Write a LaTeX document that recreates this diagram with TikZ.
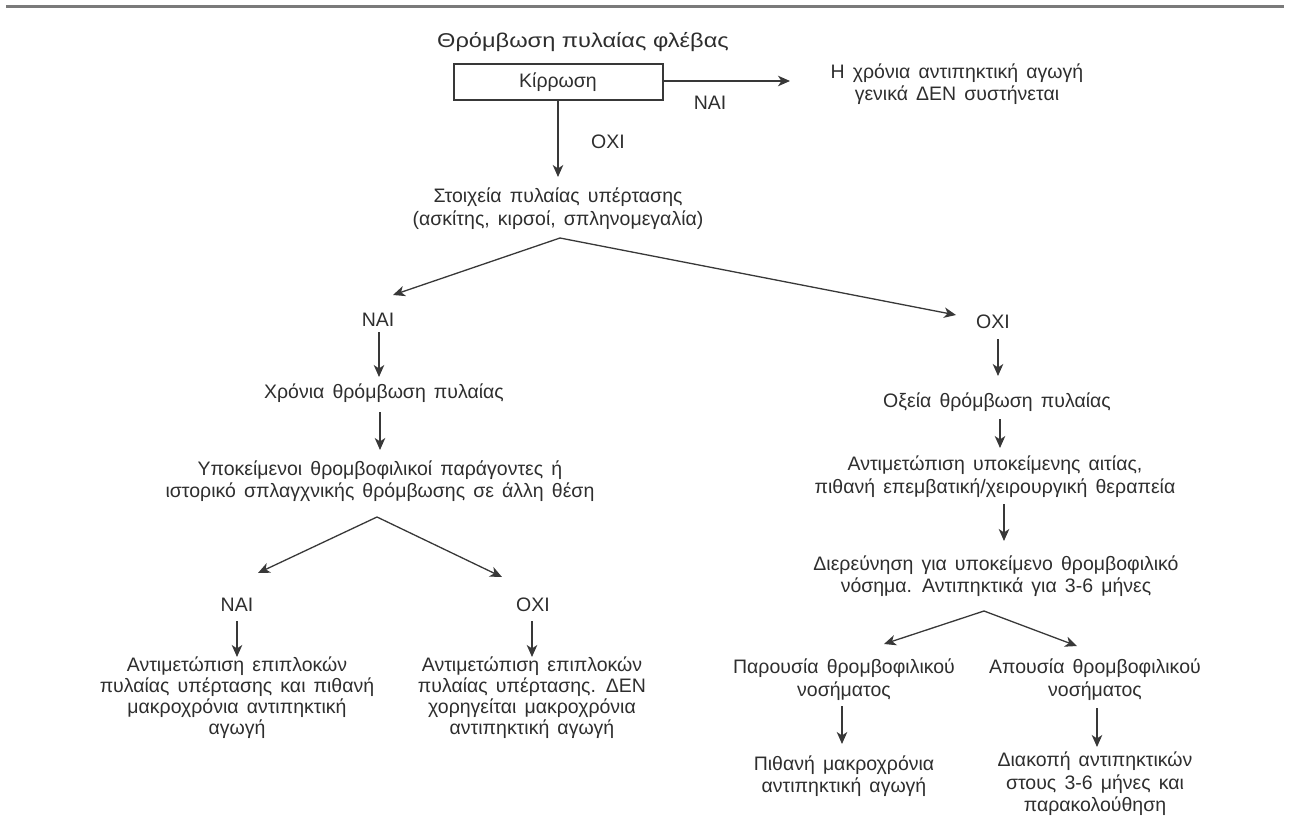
\documentclass[tikz,border=0pt]{standalone}
\usepackage{fontspec}
\setmainfont[WordSpace=1.5]{Liberation Sans}
\newfontfamily\titlefont[FakeStretch=1.18]{Liberation Sans}
\usetikzlibrary{arrows.meta}
\definecolor{textc}{HTML}{2E2E2E}
\definecolor{linec}{HTML}{383838}
\definecolor{rulec}{HTML}{7A7A7A}
\begin{document}
\begin{tikzpicture}[x=1pt,y=-1pt,
  txt/.style={font=\fontsize{19.5}{22.5}\selectfont, text=textc, align=center, inner sep=0pt},
  txtn/.style={txt, font=\fontsize{19.5}{21}\selectfont},
  ttl/.style={font=\titlefont\fontsize{20}{24}\selectfont, text=textc, inner sep=0pt},
  arr/.style={draw=linec, line width=1.3pt, -{Stealth[length=12pt,width=10.5pt,inset=3.5pt]}},
  kbox/.style={txt, draw=linec, line width=2pt, minimum width=209pt, minimum height=36pt}]
\useasboundingbox (0,0) rectangle (1291,816);
\draw[rulec, line width=3pt] (6,7) -- (1284,7);

% top
\node[ttl] (title) at (583,42) {Θρόμβωση πυλαίας φλέβας};
\node[kbox] (kir) at (558,82) {Κίρρωση};
\coordinate (yesEnd) at (790,81);
\node[txt] (nai0) at (710,103) {NAI};
\node[txt] (r0) at (957,84) {Η χρόνια αντιπηκτική αγωγή\\γενικά ΔΕΝ συστήνεται};
\node[txt] (oxi0) at (608,142) {OXI};
\coordinate (noEnd) at (558,177);
\draw[arr] (kir.east |- yesEnd) -- (yesEnd);
\draw[arr] (kir.south) -- (noEnd);

\node[txt] (stoix) at (558,208.5) {Στοιχεία πυλαίας υπέρτασης\\(ασκίτης, κιρσοί, σπληνομεγαλία)};
\coordinate (apex1) at (560,238);
\coordinate (tipL1) at (393,295);
\coordinate (tipR1) at (956,315);
\draw[arr] (apex1) -- (tipL1);
\draw[arr] (apex1) -- (tipR1);

% left branch
\node[txt] (nai1) at (378,320) {NAI};
\coordinate (a1s) at (379,332); \coordinate (a1e) at (379,377);
\draw[arr] (a1s) -- (a1e);
\node[txt] (chr) at (384,393) {Χρόνια θρόμβωση πυλαίας};
\coordinate (a2s) at (380,412); \coordinate (a2e) at (380,450);
\draw[arr] (a2s) -- (a2e);
\node[txt] (ypo) at (380,481) {Υποκείμενοι θρομβοφιλικοί παράγοντες ή\\ιστορικό σπλαγχνικής θρόμβωσης σε άλλη θέση};
\coordinate (apex2) at (377,517);
\coordinate (tipL2) at (258,573);
\coordinate (tipR2) at (502,577);
\draw[arr] (apex2) -- (tipL2);
\draw[arr] (apex2) -- (tipR2);
\node[txt] (nai2) at (237,605) {NAI};
\node[txt] (oxi2) at (533,605) {OXI};
\coordinate (a3s) at (237,621); \coordinate (a3e) at (237,657);
\coordinate (a4s) at (532,621); \coordinate (a4e) at (532,657);
\draw[arr] (a3s) -- (a3e);
\draw[arr] (a4s) -- (a4e);
\node[txtn] (bl) at (237,698) {Αντιμετώπιση επιπλοκών\\πυλαίας υπέρτασης και πιθανή\\μακροχρόνια αντιπηκτική\\αγωγή};
\node[txtn] (bm) at (532,698) {Αντιμετώπιση επιπλοκών\\πυλαίας υπέρτασης. ΔΕΝ\\χορηγείται μακροχρόνια\\αντιπηκτική αγωγή};

% right branch
\node[txt] (oxi1) at (993,322) {OXI};
\coordinate (b1s) at (998,339); \coordinate (b1e) at (998,376);
\draw[arr] (b1s) -- (b1e);
\node[txt] (oxe) at (997,402) {Οξεία θρόμβωση πυλαίας};
\coordinate (b2s) at (1000,419); \coordinate (b2e) at (1000,448);
\draw[arr] (b2s) -- (b2e);
\node[txt] (ant) at (995,476.5) {Αντιμετώπιση υποκείμενης αιτίας,\\πιθανή επεμβατική/χειρουργική θεραπεία};
\coordinate (b3s) at (1004,504); \coordinate (b3e) at (1004,541);
\draw[arr] (b3s) -- (b3e);
\node[txt] (dier) at (996,576) {Διερεύνηση για υποκείμενο θρομβοφιλικό\\νόσημα. Αντιπηκτικά για 3-6 μήνες};
\coordinate (apex3) at (984,611);
\coordinate (tipL3) at (884,644);
\coordinate (tipR3) at (1077,646);
\draw[arr] (apex3) -- (tipL3);
\draw[arr] (apex3) -- (tipR3);
\node[txt] (par) at (844,679.5) {Παρουσία θρομβοφιλικού\\νοσήματος};
\node[txt] (apo) at (1095,679.5) {Απουσία θρομβοφιλικού\\νοσήματος};
\coordinate (b4s) at (842,706); \coordinate (b4e) at (842,744);
\coordinate (b5s) at (1097,708); \coordinate (b5e) at (1097,747);
\draw[arr] (b4s) -- (b4e);
\draw[arr] (b5s) -- (b5e);
\node[txt] (pith) at (844,776) {Πιθανή μακροχρόνια\\αντιπηκτική αγωγή};
\node[txt] (diak) at (1095,784) {Διακοπή αντιπηκτικών\\στους 3-6 μήνες και\\παρακολούθηση};
\end{tikzpicture}
\end{document}
